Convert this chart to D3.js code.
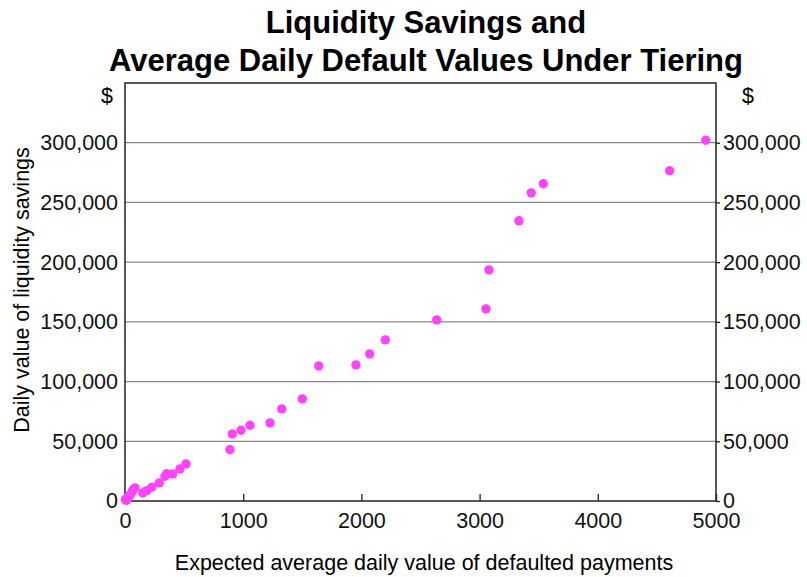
<!DOCTYPE html>
<html>
<head>
<meta charset="utf-8">
<script src="https://cdn.jsdelivr.net/npm/d3@7"></script>
<style>
  body { margin: 0; background: #fff; }
  svg { font-family: "Liberation Sans", Arial, sans-serif; }
</style>
</head>
<body>
<svg id="scatterSvg" width="807" height="577"></svg>
<script>
      // expected average daily value of defaulted payments
      var defaultValues = [3, 12, 22, 31, 45, 59, 70, 85, 150, 184, 226, 290, 338, 353, 404, 465, 516,
                           888, 908, 981, 1058, 1227, 1326, 1500, 1639, 1954, 2070, 2202, 2637,
                           3054, 3079, 3333, 3437, 3539, 4608, 4913];
      // daily value of liquidity savings ($)
      var savingsValues = [1200, 500, 2200, 3900, 5200, 7600, 9600, 11000, 6800, 8700, 11500, 15200, 20700, 22900, 22700, 26900, 31100,
                           43000, 56200, 59200, 63400, 65400, 77100, 85500, 113100, 114000, 123200, 134900, 151700,
                           160900, 193500, 234600, 258000, 265600, 276500, 302100];

      var xTicks = [0, 1000, 2000, 3000, 4000, 5000];
      var yTicks = [0, 50000, 100000, 150000, 200000, 250000, 300000];

      var titleLines = ['Liquidity Savings and', 'Average Daily Default Values Under Tiering'];
      var xTitle = 'Expected average daily value of defaulted payments';
      var yTitle = 'Daily value of liquidity savings';

      var margin = { top: 83, bottom: 76, right: 91, left: 125 };
      var svg = d3.select('#scatterSvg');
      var width = 807, height = 577;
      var innerWidth = width - margin.left - margin.right;
      var innerHeight = height - margin.top - margin.bottom;

      var xScale = d3.scaleLinear().domain([0, 5000]).range([0, innerWidth]);
      var yScale = d3.scaleLinear().domain([0, 350000]).range([innerHeight, 0]);
      var fmt = d3.format(',');

      // title
      svg.selectAll('.title')
         .data(titleLines)
         .enter()
         .append('text')
         .attr('x', 426)
         .attr('y', (d, i) => 33 + i * 38)
         .attr('text-anchor', 'middle')
         .style('font-size', '31px')
         .style('font-weight', 'bold')
         .text(d => d);

      const g = svg.append('g')
              .attr('transform', 'translate(' + margin.left + ',' + margin.top + ')');

      // gridlines
      g.selectAll('.grid')
       .data(yTicks.filter(d => d > 0))
       .enter()
       .append('line')
       .attr('x1', 0).attr('x2', innerWidth)
       .attr('y1', d => yScale(d)).attr('y2', d => yScale(d))
       .style('stroke', '#888')
       .style('stroke-width', 1.3);

      // frame
      g.append('rect')
       .attr('width', innerWidth).attr('height', innerHeight)
       .style('fill', 'none').style('stroke', '#222').style('stroke-width', 1.5);

      // left axis
      var yAxisL = d3.axisLeft(yScale).tickValues(yTicks).tickFormat(fmt).tickSize(0).tickPadding(7);
      g.append('g').call(yAxisL);
      // right axis
      var yAxisR = d3.axisRight(yScale).tickValues(yTicks).tickFormat(fmt).tickSize(4).tickPadding(3);
      g.append('g').attr('transform', `translate(${innerWidth},0)`).call(yAxisR);
      // bottom axis, ticks pointing inward
      var xAxis = d3.axisBottom(xScale).tickValues(xTicks).tickFormat(d3.format('d')).tickSize(-7).tickPadding(12);
      g.append('g').attr('transform', `translate(0,${innerHeight})`).call(xAxis);

      g.selectAll('.domain').remove();
      g.selectAll('.tick text')
       .style('font-size', '21.5px')
       .style('font-family', '"Liberation Sans", Arial, sans-serif')
       .style('fill', '#111');
      g.selectAll('.tick line').style('stroke', '#222').style('stroke-width', 1.3);

      // $ units
      g.append('text').attr('x', -18).attr('y', 20).attr('text-anchor', 'middle')
       .style('font-size', '21.5px').text('$');
      g.append('text').attr('x', innerWidth + 32).attr('y', 20).attr('text-anchor', 'middle')
       .style('font-size', '21.5px').text('$');

      // points
      var data = d3.zip(defaultValues, savingsValues);
      g.selectAll('circle')
       .data(data)
       .enter()
       .append('circle')
       .attr('cx', d => xScale(d[0]))
       .attr('cy', d => yScale(d[1]))
       .attr('r', 4.7)
       .style('fill', '#ff44ff');

      // axis titles
      svg.append('text')
         .attr('x', 424).attr('y', 570)
         .attr('text-anchor', 'middle')
         .style('font-size', '21.5px')
         .text(xTitle);
      svg.append('text')
         .attr('transform', 'rotate(-90)')
         .attr('x', -290).attr('y', 29)
         .attr('text-anchor', 'middle')
         .style('font-size', '21.5px')
         .text(yTitle);
</script>
</body>
</html>
